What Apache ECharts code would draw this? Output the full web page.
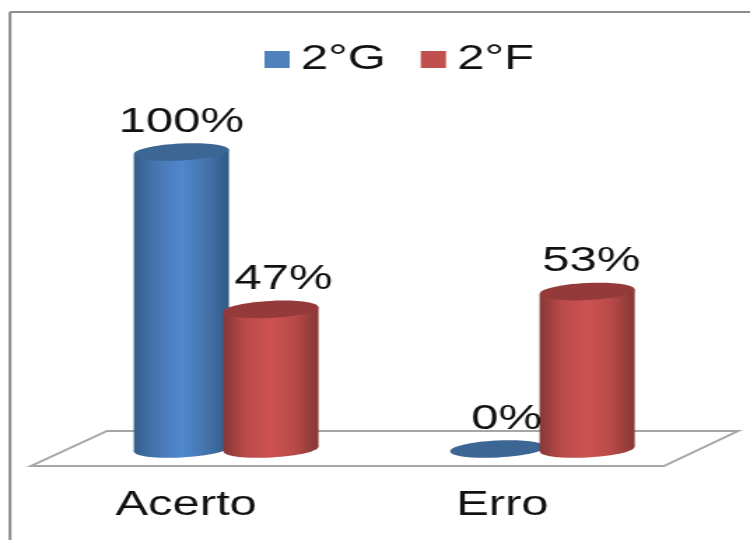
<!DOCTYPE html>
<html>
<head>
<meta charset="utf-8">
<style>
  html, body { margin: 0; padding: 0; background: #fff; width: 750px; height: 540px; overflow: hidden; }
  /* The chart is laid out narrow and widened, which gives the wide lettering and flat cylinders. */
  #chart { width: 536px; height: 540px; transform-origin: 0 0; transform: scaleX(1.3993); }
</style>
<script src="https://cdn.jsdelivr.net/npm/echarts@6/dist/echarts.min.js"></script>
</head>
<body>
<div id="chart"></div>
<script>
const categories = ['Acerto', 'Erro'];
const valuesG = [100, 0];
const valuesF = [47, 53];
const nameG = '2°G';
const nameF = '2°F';

const FONT = '"Liberation Sans", Arial, sans-serif';
const TEXT_SIZE = 35;
const RX = 34, RY = 8.5;          // cylinder cross-section radii
const TILT = 0.07;                // ellipse tilt, radians
const DEPTH_SHIFT = 28.6;         // cylinders stand further back than the axis labels
const GROUP_OFFSET = 32;          // distance of each cylinder from the group centre

function cylinderSeries(name, values, side, shades, labelNudge) {
  const gradient = new echarts.graphic.LinearGradient(0, 0, 1, 0, [
    { offset: 0, color: shades.edgeL },
    { offset: 0.22, color: shades.mid },
    { offset: 0.5, color: shades.light },
    { offset: 0.75, color: shades.mid },
    { offset: 1, color: shades.edgeR }
  ]);
  return {
    type: 'custom',
    name: name,
    itemStyle: { color: shades.legend },
    encode: { x: 0, y: 1 },
    data: values.map((v, i) => [i, v]),
    clip: false,
    renderItem(params, api) {
      const i = api.value(0), v = api.value(1);
      const top = api.coord([i, v]);
      const base = api.coord([i, 0]);
      const cx = top[0] + DEPTH_SHIFT + side * GROUP_OFFSET;
      const dy = RX * Math.sin(TILT);
      const children = [];
      if (v > 0) {
        children.push({
          type: 'ellipse', rotation: TILT, x: cx, y: base[1],
          shape: { cx: 0, cy: 0, rx: RX, ry: RY },
          style: { fill: gradient }
        });
        children.push({
          type: 'polygon',
          shape: { points: [
            [cx - RX, top[1] + dy], [cx + RX, top[1] - dy],
            [cx + RX, base[1] - dy], [cx - RX, base[1] + dy]
          ] },
          style: { fill: gradient }
        });
      }
      children.push({
        type: 'ellipse', rotation: TILT, x: cx, y: top[1],
        shape: { cx: 0, cy: 0, rx: RX, ry: RY },
        style: { fill: shades.cap }
      });
      children.push({
        type: 'text', z2: 10,
        x: cx + labelNudge[i], y: top[1] - 30,
        style: {
          text: v + '%', fill: '#111', font: TEXT_SIZE + 'px ' + FONT,
          align: 'center', verticalAlign: 'middle'
        }
      });
      return { type: 'group', children };
    }
  };
}

const blue = { edgeL: '#345f8e', mid: '#4675ae', light: '#5088cf', edgeR: '#2f5a85', cap: '#3c6694', legend: '#4f81bd' };
const red = { edgeL: '#873837', mid: '#b84a49', light: '#cd5352', edgeR: '#853736', cap: '#953a3a', legend: '#c0504d' };

const S = 1.3993;
const floor = [[107, 431], [738, 431], [664, 466], [31, 466]].map(p => [p[0] / S, p[1]]);

const chart = echarts.init(document.getElementById('chart'), null, { renderer: 'canvas' });
chart.setOption({
  animation: false,
  backgroundColor: '#fff',
  graphic: [
    { type: 'polygon', shape: { points: floor }, style: { fill: '#fff', stroke: '#a6a6a6', lineWidth: 2 } },
    { type: 'line', shape: { x1: 10 / S, y1: 12, x2: 536, y2: 12 }, style: { stroke: '#8c8c8c', lineWidth: 2 } },
    { type: 'line', shape: { x1: 10 / S, y1: 12, x2: 10 / S, y2: 540 }, style: { stroke: '#8c8c8c', lineWidth: 2 } }
  ],
  legend: {
    data: [nameG, nameF],
    left: 184, top: 37,
    icon: 'rect', itemWidth: 18, itemHeight: 17, itemGap: 25,
    textStyle: { fontFamily: FONT, fontSize: TEXT_SIZE, color: '#111', padding: [0, 0, 0, 3] }
  },
  grid: { left: 20, width: 452, top: 152, bottom: 91 },
  xAxis: {
    type: 'category', data: categories,
    axisLine: { show: false }, axisTick: { show: false },
    axisLabel: { fontFamily: FONT, fontSize: TEXT_SIZE, color: '#111', margin: 39 }
  },
  yAxis: { type: 'value', min: 0, max: 100, show: false },
  series: [
    cylinderSeries(nameG, valuesG, -1, blue, [0, 6.5]),
    cylinderSeries(nameF, valuesF, 1, red, [9, 3])
  ]
});
</script>
</body>
</html>
